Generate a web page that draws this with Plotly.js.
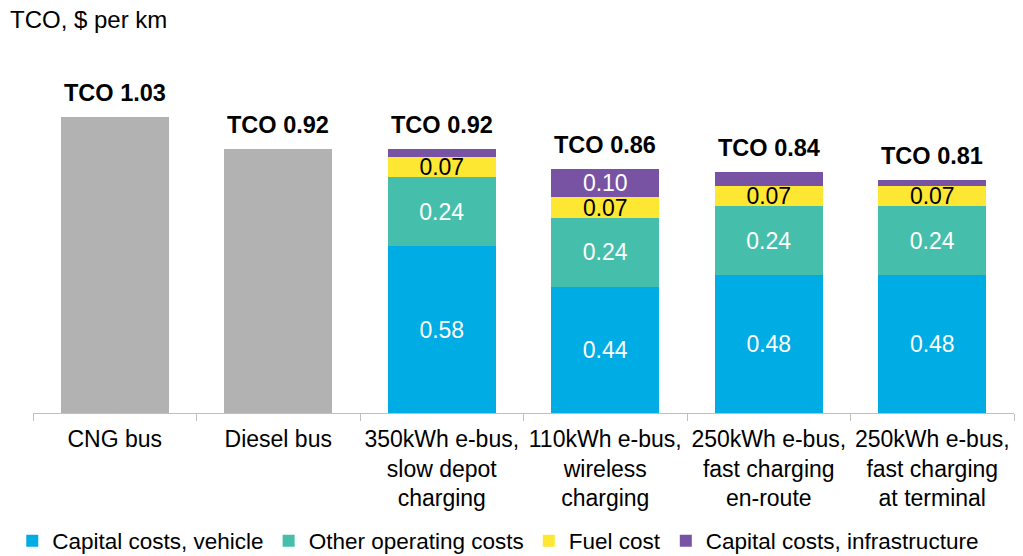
<!DOCTYPE html>
<html>
<head>
<meta charset="utf-8">
<script src="https://cdn.plot.ly/plotly-3.0.1.min.js"></script>
<style>
html,body{margin:0;padding:0;background:#fff;}
#chart{width:1023px;height:556px;}
</style>
</head>
<body>
<div id="chart"></div>
<script>
var categories = ["CNG bus", "Diesel bus", "350kWh e-bus,<br>slow depot<br>charging", "110kWh e-bus,<br>wireless<br>charging", "250kWh e-bus,<br>fast charging<br>en-route", "250kWh e-bus,<br>fast charging<br>at terminal"];
var conventional = [1.03, 0.92, null, null, null, null];
var vehicleCapital = [null, null, 0.58, 0.44, 0.48, 0.48];
var otherOperating = [null, null, 0.24, 0.24, 0.24, 0.24];
var fuelCost = [null, null, 0.07, 0.07, 0.07, 0.07];
var infraCapital = [null, null, 0.03, 0.10, 0.05, 0.02];
var infraLabels = ["", "", "", "0.10", "", ""];
var tcoTotals = [1.03, 0.92, 0.92, 0.86, 0.84, 0.81];

function fmt(arr){ return arr.map(function(v){ return v == null ? "" : v.toFixed(2); }); }

var FONT = "Arial, 'Liberation Sans', sans-serif";
var segFont = 23;

var traces = [
  {type:"bar", name:"Conventional", x:categories, y:conventional, marker:{color:"#b2b2b2"}, showlegend:false, hoverinfo:"skip"},
  {type:"bar", name:"Capital costs, vehicle", x:categories, y:vehicleCapital, marker:{color:"#00ace4"},
   text:fmt(vehicleCapital), textposition:"inside", insidetextanchor:"middle", textangle:0, constraintext:"none",
   insidetextfont:{color:"#ffffff", size:segFont, family:FONT}},
  {type:"bar", name:"Other operating costs", x:categories, y:otherOperating, marker:{color:"#45bfab"},
   text:fmt(otherOperating), textposition:"inside", insidetextanchor:"middle", textangle:0, constraintext:"none",
   insidetextfont:{color:"#ffffff", size:segFont, family:FONT}},
  {type:"bar", name:"Fuel cost", x:categories, y:fuelCost, marker:{color:"#fde733"},
   text:fmt(fuelCost), textposition:"inside", insidetextanchor:"middle", textangle:0, constraintext:"none",
   insidetextfont:{color:"#000000", size:segFont, family:FONT}},
  {type:"bar", name:"Capital costs, infrastructure", x:categories, y:infraCapital, marker:{color:"#7853a4"},
   text:infraLabels, textposition:"inside", insidetextanchor:"middle", textangle:0, constraintext:"none",
   insidetextfont:{color:"#ffffff", size:segFont, family:FONT}}
];

var annotations = categories.map(function(c, i){
  var top = [conventional, vehicleCapital, otherOperating, fuelCost, infraCapital]
    .reduce(function(s, a){ return s + (a[i] || 0); }, 0);
  return {x:c, y:top, xref:"x", yref:"y", text:"<b>TCO " + tcoTotals[i].toFixed(2) + "</b>",
    showarrow:false, yanchor:"bottom", yshift:9, font:{size:23.5, color:"#000", family:FONT}};
});

var layout = {
  width:1023, height:556,
  margin:{l:33, r:9, t:60, b:143, autoexpand:false},
  paper_bgcolor:"#ffffff", plot_bgcolor:"#ffffff",
  font:{family:FONT, color:"#000"},
  barmode:"stack", bargap:0.34,
  title:{text:"TCO, $ per km", x:10/1023, xanchor:"left", xref:"container", y:1-20/556, yanchor:"middle", yref:"container",
    font:{size:24, color:"#000", family:FONT}},
  xaxis:{type:"category", showline:true, linecolor:"#bfbfbf", linewidth:1, ticks:"outside", tickson:"boundaries",
    ticklen:7, tickcolor:"#bfbfbf", tickfont:{size:23, color:"#000", family:FONT}, showgrid:false, zeroline:false,
    tickangle:0, automargin:false, ticklabelstandoff:5, range:[-0.5, 5.5]},
  yaxis:{visible:false, range:[0, 353/287.4], showgrid:false, zeroline:false},
  showlegend:true,
  legend:{orientation:"h", xref:"container", yref:"container", x:0.012, xanchor:"left", y:1-541/556, yanchor:"middle",
    font:{size:22.5, color:"#000", family:FONT}, traceorder:"normal", itemwidth:30, tracegroupgap:0},
  annotations:annotations
};

Plotly.newPlot("chart", traces, layout, {displayModeBar:false, staticPlot:true});
</script>
</body>
</html>
